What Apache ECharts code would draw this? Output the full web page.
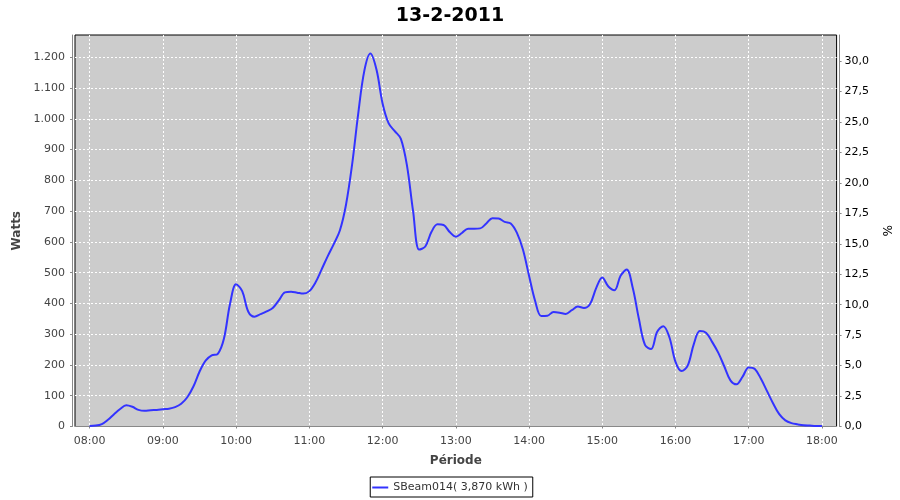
<!DOCTYPE html>
<html>
<head>
<meta charset="utf-8">
<script src="https://cdn.jsdelivr.net/npm/echarts@6/dist/echarts.min.js"></script>
<style>html,body{margin:0;padding:0;background:#fff;}#c{width:900px;height:500px;}</style>
</head>
<body>
<div id="c"></div>
<script>
const title = '13-2-2011';
const seriesName = 'SBeam014( 3,870 kWh )';
const xTickLabels = ['08:00','09:00','10:00','11:00','12:00','13:00','14:00','15:00','16:00','17:00','18:00'];
const startTime = '08:00';
const stepMinutes = 5;
// Watts, one reading every 5 minutes from 08:00 to 18:00
const watts = [
  2, 3, 8, 22, 40, 57, 69, 64, 54, 51, 53, 54,
  56, 58, 63, 74, 95, 130, 178, 214, 231, 236, 285, 398,
  462, 440, 373, 357, 365, 374, 385, 410, 436, 438, 435, 432,
  440, 468, 510, 553, 593, 637, 720, 850, 1015, 1155, 1212, 1160,
  1050, 985, 960, 935, 848, 700, 575, 585, 632, 657, 655, 632,
  617, 629, 643, 643, 644, 660, 677, 676, 665, 660, 630, 575,
  490, 408, 359, 360, 372, 370, 366, 378, 390, 385, 398, 450,
  484, 455, 443, 490, 510, 450, 350, 265, 252, 308, 326, 290,
  210, 180, 198, 268, 310, 305, 275, 240, 195, 150, 137, 162,
  192, 187, 155, 115, 75, 40, 20, 11, 7, 4, 3, 2,
  2
];
const wattsMax = 1272.5;
const percentMax = 32.15;

function t(hm) {
  const p = hm.split(':');
  return new Date(2011, 1, 13, +p[0], +p[1]).getTime();
}
const t0 = t(startTime);
const data = watts.map((v, i) => [t0 + i * stepMinutes * 60000, v]);

const FONT = 'DejaVu Sans';
const GRIDLINE = {show: true, showMinLine: false, showMaxLine: false,
  lineStyle: {color: '#fff', type: [2, 2], width: 1}};
const chart = echarts.init(document.getElementById('c'), null, {renderer: 'canvas'});
chart.setOption({
  animation: false,
  backgroundColor: '#ffffff',
  title: {
    text: title, left: 'center', top: 2,
    textStyle: {fontFamily: FONT, fontSize: 19, fontWeight: 'bold', color: '#000'}
  },
  legend: {
    data: [seriesName], left: 'center', top: 477,
    icon: 'rect', itemWidth: 16, itemHeight: 2,
    borderColor: '#000', borderWidth: 1, borderRadius: 0,
    padding: [5, 5, 4, 2],
    textStyle: {fontFamily: FONT, fontSize: 11, color: '#333'}
  },
  grid: {
    left: 75, right: 63, top: 35, bottom: 73.5,
    show: true, backgroundColor: '#cccccc', borderColor: '#000', borderWidth: 1
  },
  xAxis: {
    type: 'time',
    min: t('07:48'), max: t('18:12'),
    minInterval: 3600000, maxInterval: 3600000,
    offset: 3,
    name: 'Période', nameLocation: 'middle', nameGap: 25,
    nameTextStyle: {fontFamily: FONT, fontSize: 12, fontWeight: 'bold', color: '#444'},
    axisLine: {show: true, lineStyle: {color: '#888', width: 1}},
    axisTick: {show: true, length: 2, lineStyle: {color: '#888'}},
    axisLabel: {
      fontFamily: FONT, fontSize: 11, color: '#444', margin: 6,
      showMinLabel: false, showMaxLabel: false,
      formatter: function (v) {
        const d = new Date(v);
        const s = String(d.getHours()).padStart(2, '0') + ':' + String(d.getMinutes()).padStart(2, '0');
        return xTickLabels.indexOf(s) >= 0 ? s : '';
      }
    },
    splitLine: GRIDLINE
  },
  yAxis: [
    {
      type: 'value', min: 0, max: wattsMax, interval: 100, position: 'left', offset: 3,
      name: 'Watts', nameLocation: 'middle', nameGap: 47, nameRotate: 90,
      nameTextStyle: {fontFamily: FONT, fontSize: 12, fontWeight: 'bold', color: '#444'},
      axisLine: {show: true, lineStyle: {color: '#888', width: 1}},
      axisTick: {show: true, length: 2, lineStyle: {color: '#888'}},
      axisLabel: {
        fontFamily: FONT, fontSize: 11, color: '#444', margin: 7, showMaxLabel: false,
        formatter: function (v) {
          if (v > 1260) return '';
          return v >= 1000 ? Math.floor(v / 1000) + '.' + String(v % 1000).padStart(3, '0') : String(v);
        }
      },
      splitLine: GRIDLINE
    },
    {
      type: 'value', min: 0, max: percentMax, interval: 2.5, position: 'right', offset: 3,
      name: '%', nameLocation: 'middle', nameGap: 33, nameRotate: -90,
      nameTextStyle: {fontFamily: FONT, fontSize: 12, color: '#000'},
      axisLine: {show: true, lineStyle: {color: '#888', width: 1}},
      axisTick: {show: true, length: 2, lineStyle: {color: '#888'}},
      axisLabel: {
        fontFamily: FONT, fontSize: 11, color: '#000', margin: 5, showMaxLabel: false,
        formatter: function (v) {
          if (v > 31) return '';
          return v.toFixed(1).replace('.', ',');
        }
      },
      splitLine: {show: false}
    }
  ],
  series: [{
    name: seriesName, type: 'line', yAxisIndex: 0, data: data,
    smooth: 0.35, showSymbol: false, symbol: 'none',
    lineStyle: {color: '#3333ff', width: 2},
    itemStyle: {color: '#3333ff'}
  }]
});
</script>
</body>
</html>
